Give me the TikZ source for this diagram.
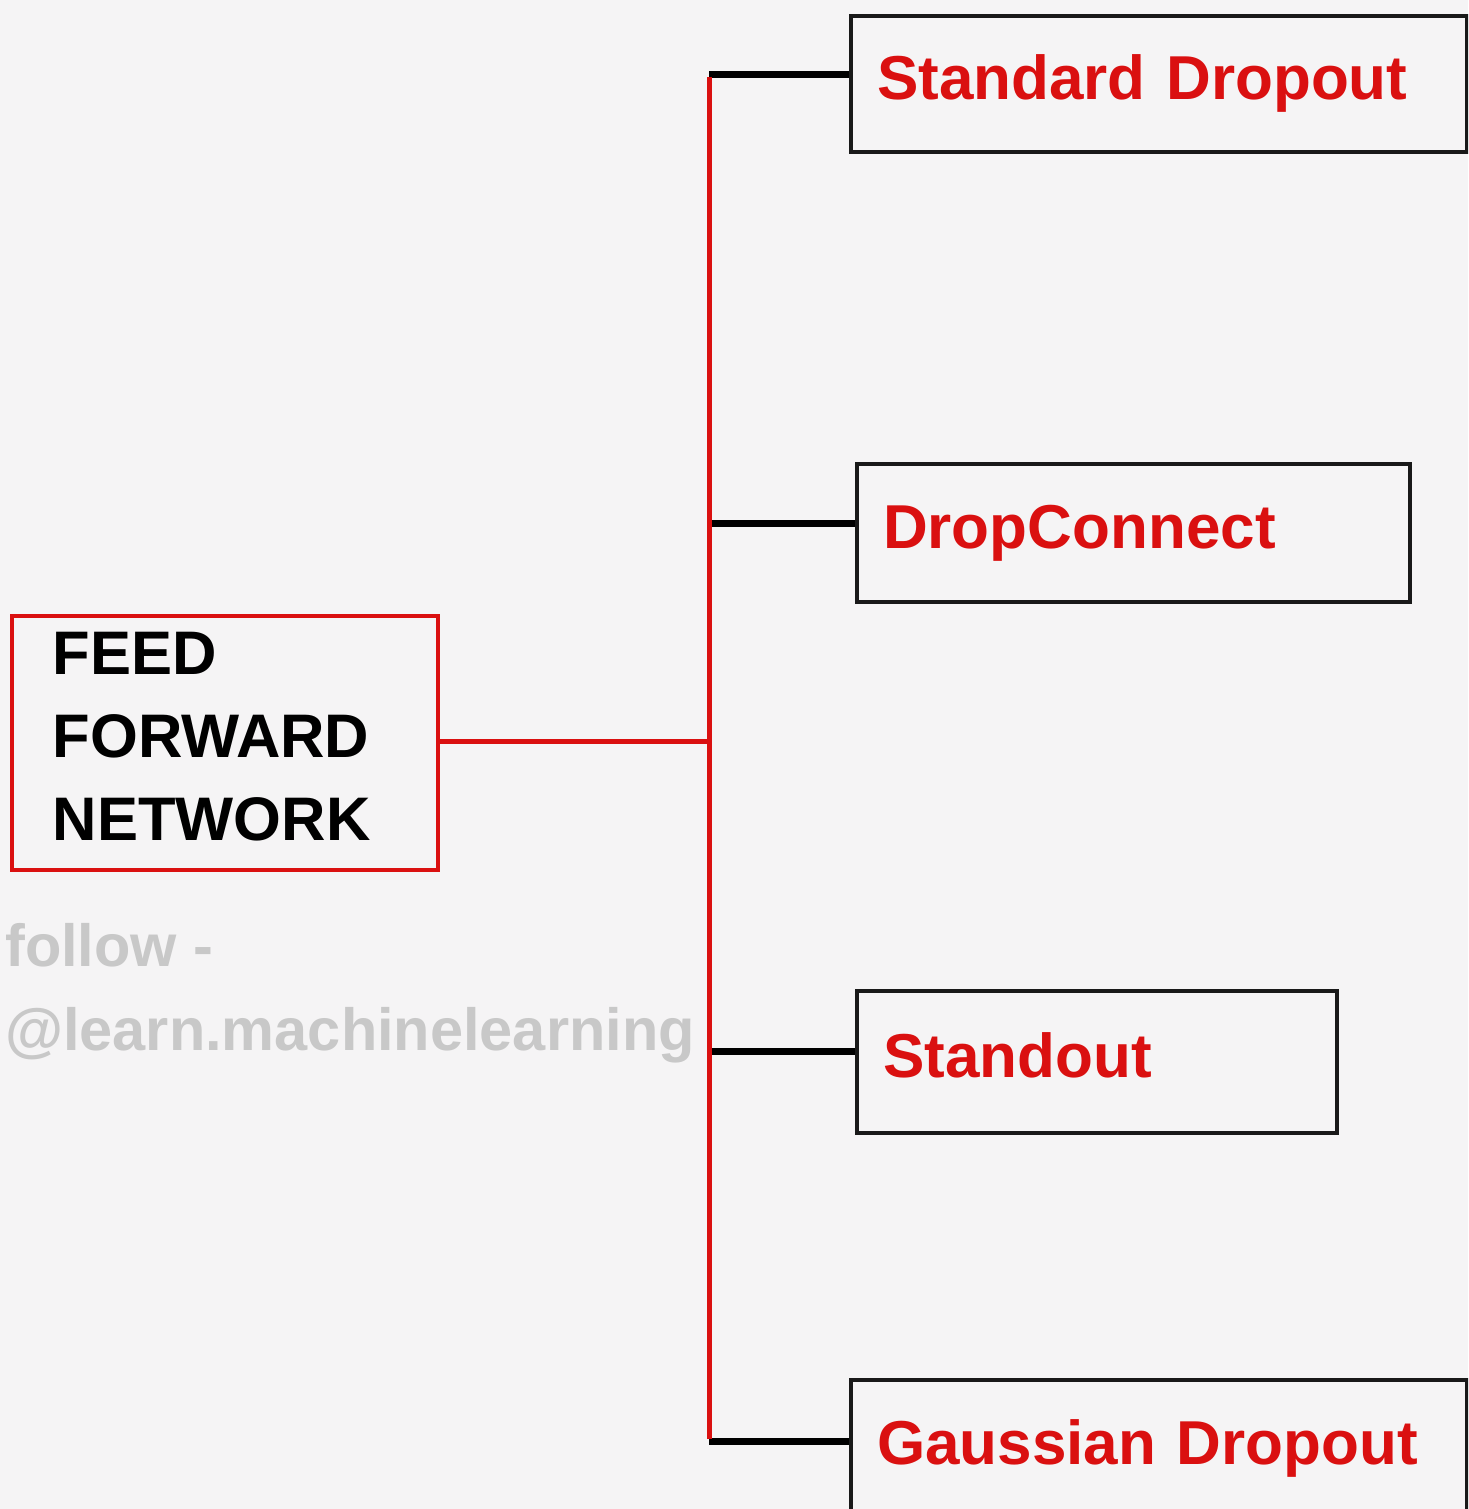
\documentclass[tikz,border=0pt]{standalone}
\usepackage{fontspec}
\setmainfont{Liberation Sans}
\definecolor{bg}{RGB}{245,244,245}
\definecolor{myred}{RGB}{218,16,16}
\definecolor{wm}{RGB}{200,200,200}
\begin{document}
\begin{tikzpicture}[x=1pt,y=-1pt,
  leafbox/.style={draw=black!90, line width=4pt, anchor=north west, inner xsep=26pt,
    inner ysep=0pt, align=left, text=myred,
    font=\fontsize{62}{70}\selectfont\bfseries, text height=46pt, text depth=15pt},
  rootbox/.style={draw=myred, line width=3.5pt, anchor=north west, inner xsep=41pt,
    inner ysep=0pt, align=left, text=black, minimum height=254pt,
    font=\fontsize{61.5}{83}\selectfont\bfseries},
  spine/.style={draw=myred, line width=5pt},
  branch/.style={draw=black, line width=7pt}]
\fill[bg] (0,0) rectangle (1468,1509);
\useasboundingbox (0,0) rectangle (1468,1509);
\begin{scope}
\clip (0,0) rectangle (1468,1509);
\node[leafbox, text width=564pt, minimum height=136pt] (sd) at (849,14) {Standard Dropout};
\node[leafbox, text width=501pt, minimum height=138pt] (dc) at (855,462) {DropConnect};
\node[leafbox, text width=428pt, minimum height=142pt] (so) at (855,989) {Standout};
\node[leafbox, text width=564pt, minimum height=137pt] (gd) at (849,1378) {Gaussian Dropout};
\node[rootbox, text width=344pt, minimum width=426pt] (ffn) at (10,614) {FEED\\FORWARD\\NETWORK\rule[-13pt]{0pt}{0pt}};
\node[anchor=base west, inner sep=0pt, align=left, text=wm,
  font=\fontsize{59.5}{84}\selectfont\bfseries] (wmk) at (5,1050) {follow -\\@learn.machinelearning};
\coordinate (j1) at (709,75);
\coordinate (j2) at (709,523);
\coordinate (j3) at (709,1051);
\coordinate (j4) at (709,1441);
\coordinate (jm) at (709,741);
\draw[branch] (j1) -- (j1 -| sd.west);
\draw[branch] (j2) -- (j2 -| dc.west);
\draw[branch] (j3) -- (j3 -| so.west);
\draw[branch] (j4) -- (j4 -| gd.west);
\draw[spine] ([yshift=-2pt]j1) -- ([yshift=2pt]j4);
\draw[spine] (ffn.east |- jm) -- (jm);
\end{scope}
\end{tikzpicture}
\end{document}
